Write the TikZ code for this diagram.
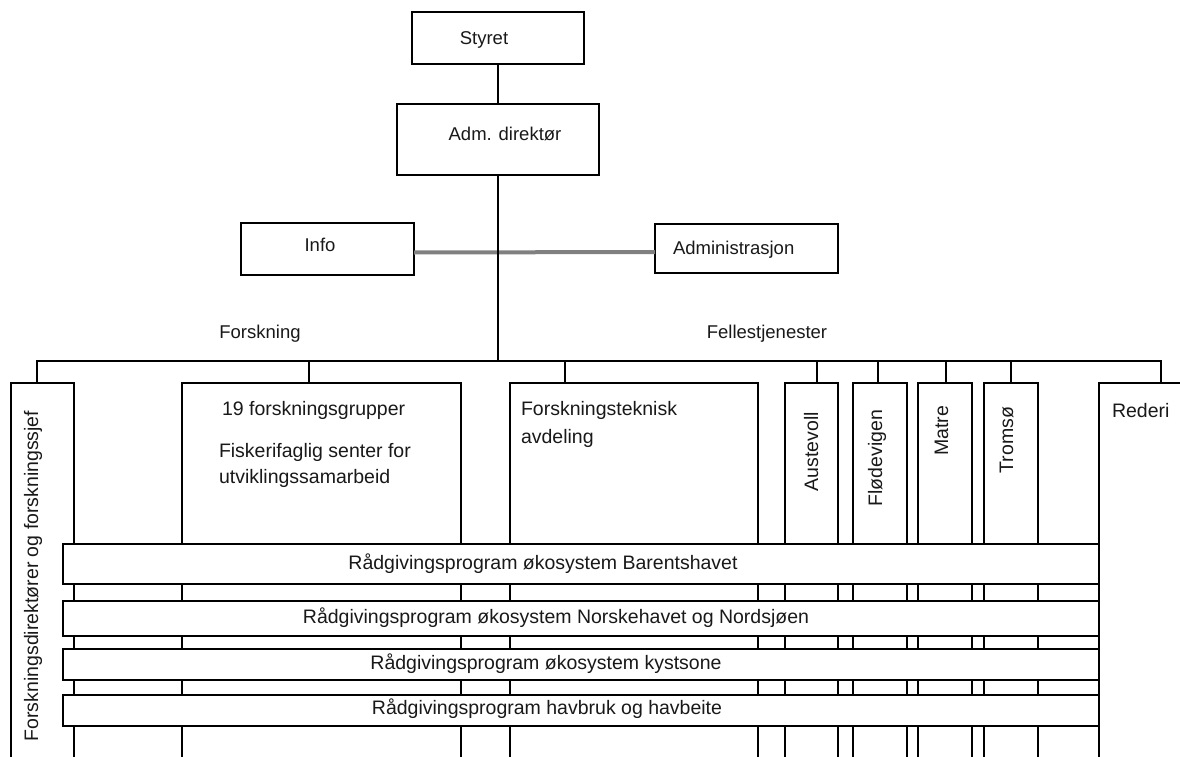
\documentclass[tikz,border=0pt]{standalone}
\usepackage{fontspec}
\setmainfont{Liberation Sans}
\begin{document}
\begin{tikzpicture}[x=1pt,y=-1pt,
  every node/.style={inner sep=0pt, outer sep=0pt, text=black!90},
  box/.style={draw, line width=2.4pt, fill=white, rectangle},
  tall/.style={box, minimum height=407pt},
  bar/.style={box, minimum width=1036pt},
  lbl/.style={font=\fontsize{19.5}{22}\selectfont, text height=14pt, text depth=4pt},
  toplbl/.style={font=\fontsize{18.5}{22}\selectfont, text height=14pt, text depth=4pt},
  link/.style={line width=2.4pt},
  graylink/.style={line width=4pt, draw=black!50},
]
\useasboundingbox (0,0) rectangle (1180,757);
\fill[white] (0,0) rectangle (1180,757);
\clip (0,0) rectangle (1180,757);

% management
\node[box, minimum width=172pt, minimum height=52pt] (styret) at (498,38) {};
\node[toplbl] (styret-t) at (484,40) {Styret};
\node[box, minimum width=202pt, minimum height=71pt] (adm) at (498,139.5) {};
\node[toplbl] (adm-t) at (505,135) {Adm. direktør};
\node[box, minimum width=173pt, minimum height=52pt] (info) at (327.5,249) {};
\node[toplbl] (info-t) at (320,246) {Info};
\node[box, minimum width=183pt, minimum height=49pt] (admin) at (746.5,248.5) {};
\node[toplbl, anchor=west] (admin-t) at (673,249) {Administrasjon};

\draw[link] (styret.south) -- (adm.north);
\draw[graylink] ([yshift=-3.5pt]info.east) -- ([yshift=-3.5pt]admin.west);

% branch labels
\node[toplbl] (forsk-l) at (260,333) {Forskning};
\node[toplbl] (felles-l) at (767,333) {Fellestjenester};

% units
\node[tall, minimum width=63pt] (lt) at (42.5,586.5) {};
\node[tall, minimum width=279pt] (grp) at (321.5,586.5) {};
\node[tall, minimum width=248pt] (tek) at (634,586.5) {};
\node[tall, minimum width=53pt] (aus) at (811.5,586.5) {};
\node[tall, minimum width=54pt] (fla) at (880,586.5) {};
\node[tall, minimum width=54pt] (mat) at (945,586.5) {};
\node[tall, minimum width=54pt] (tro) at (1011,586.5) {};
\node[tall, minimum width=110pt] (red) at (1154,586.5) {};

\node[lbl, rotate=90] (lt-t) at (33,576) {Forskningsdirektører og forskningssjef};
\node[lbl, anchor=west] (grp-t1) at (222,410) {19 forskningsgrupper};
\node[lbl, anchor=west] (grp-t2) at (219,452) {Fiskerifaglig senter for};
\node[lbl, anchor=west] (grp-t3) at (219,478) {utviklingssamarbeid};
\node[lbl, anchor=west] (tek-t1) at (521,410) {Forskningsteknisk};
\node[lbl, anchor=west] (tek-t2) at (521,438) {avdeling};
\node[lbl, rotate=90, anchor=east] (aus-t) at (813,412) {Austevoll};
\node[lbl, rotate=90, anchor=east] (fla-t) at (877,410) {Flødevigen};
\node[lbl, rotate=90, anchor=east] (mat-t) at (943,406) {Matre};
\node[lbl, rotate=90, anchor=east] (tro-t) at (1008,407) {Tromsø};
\node[lbl, anchor=west] (red-t) at (1112,412) {Rederi};

% bus and drops
\coordinate (d0) at (498,361);
\coordinate (d1) at (37,361);
\coordinate (d2) at (309,361);
\coordinate (d3) at (565,361);
\coordinate (d4) at (817,361);
\coordinate (d5) at (878,361);
\coordinate (d6) at (946,361);
\coordinate (d7) at (1011,361);
\coordinate (d8) at (1161,361);
\draw[link] (adm.south) -- (d0);
\draw[link] (d1 |- lt.north) -- (d1) -- (d8) -- (d8 |- red.north);
\draw[link] (d2) -- (d2 |- grp.north);
\draw[link] (d3) -- (d3 |- tek.north);
\draw[link] (d4) -- (d4 |- aus.north);
\draw[link] (d5) -- (d5 |- fla.north);
\draw[link] (d6) -- (d6 |- mat.north);
\draw[link] (d7) -- (d7 |- tro.north);

% advisory programmes across the units
\node[bar, minimum height=40pt] (p1) at (581,564) {};
\node[bar, minimum height=35pt] (p2) at (581,618.5) {};
\node[bar, minimum height=31pt] (p3) at (581,664.5) {};
\node[bar, minimum height=31pt] (p4) at (581,710.5) {};
\node[lbl] (p1-t) at (543,564) {Rådgivingsprogram økosystem Barentshavet};
\node[lbl] (p2-t) at (556,618) {Rådgivingsprogram økosystem Norskehavet og Nordsjøen};
\node[lbl] (p3-t) at (546,664) {Rådgivingsprogram økosystem kystsone};
\node[lbl] (p4-t) at (547,709) {Rådgivingsprogram havbruk og havbeite};
\end{tikzpicture}
\end{document}
